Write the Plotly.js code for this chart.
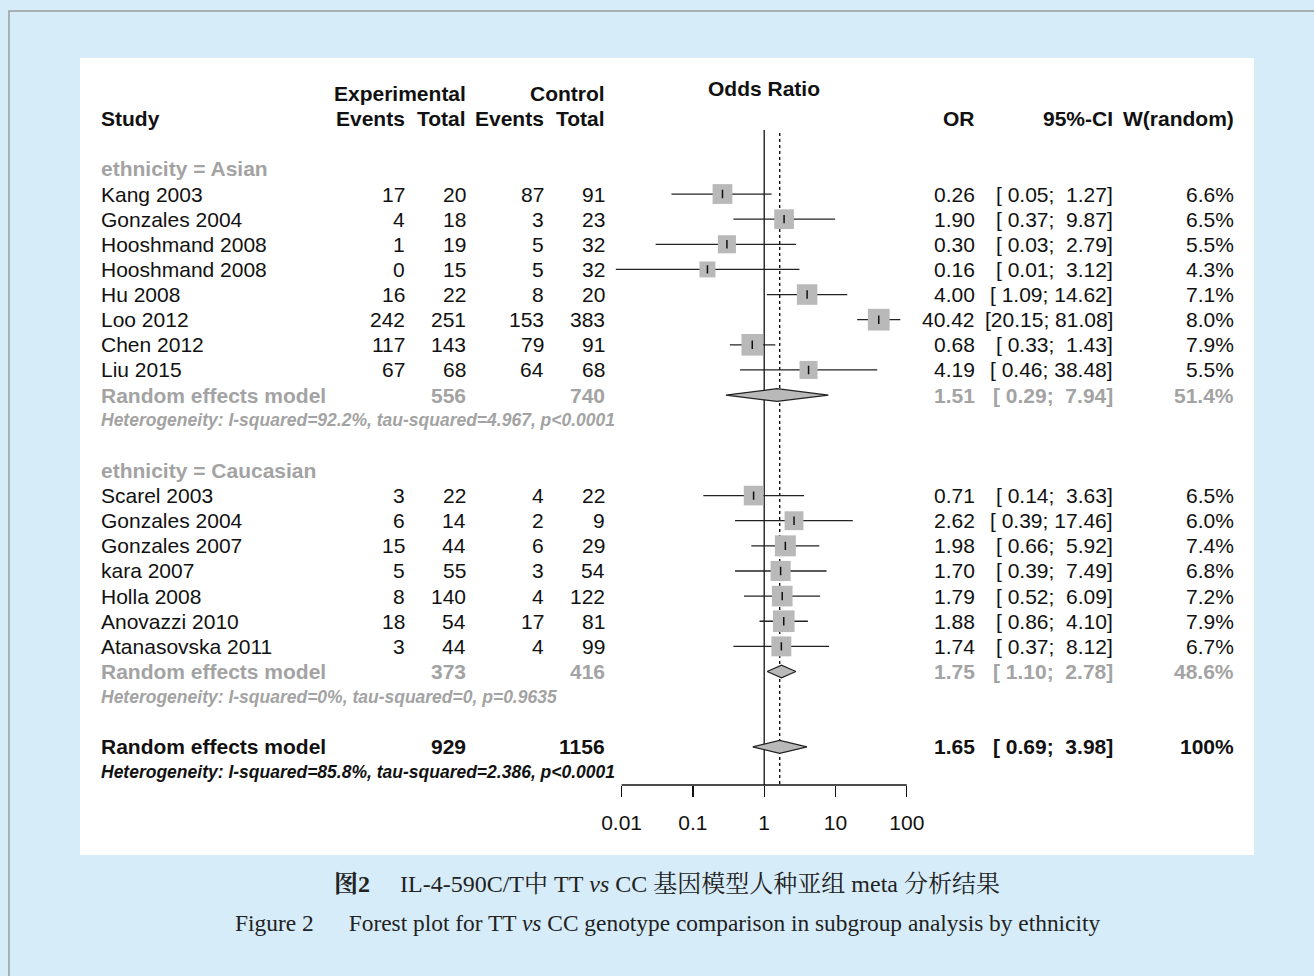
<!DOCTYPE html>
<html>
<head>
<meta charset="utf-8">
<script src="https://cdn.plot.ly/plotly-3.0.1.min.js"></script>
<style>html,body{margin:0;padding:0;background:#d6ecf9;} #chart{width:1314px;height:976px;}</style>
</head>
<body>
<div id="chart"></div>
<script>
// ---------------- data ----------------
const groupLabels = ["ethnicity = Asian", "ethnicity = Caucasian"];
const studyNames = ["Kang 2003","Gonzales 2004","Hooshmand 2008","Hooshmand 2008","Hu 2008","Loo 2012","Chen 2012","Liu 2015",
  "Scarel 2003","Gonzales 2004","Gonzales 2007","kara 2007","Holla 2008","Anovazzi 2010","Atanasovska 2011"];
const studyGroup = [0,0,0,0,0,0,0,0,1,1,1,1,1,1,1];
const expEvents  = [17,4,1,0,16,242,117,67, 3,6,15,5,8,18,3];
const expTotal   = [20,18,19,15,22,251,143,68, 22,14,44,55,140,54,44];
const ctrlEvents = [87,3,5,5,8,153,79,64, 4,2,6,3,4,17,4];
const ctrlTotal  = [91,23,32,32,20,383,91,68, 22,9,29,54,122,81,99];
const oddsRatio  = [0.26,1.90,0.30,0.16,4.00,40.42,0.68,4.19, 0.71,2.62,1.98,1.70,1.79,1.88,1.74];
const ciLower    = [0.05,0.37,0.03,0.0083,1.09,20.15,0.33,0.46, 0.14,0.39,0.66,0.39,0.52,0.86,0.37];
const ciUpper    = [1.27,9.87,2.79,3.12,14.62,81.08,1.43,38.48, 3.63,17.46,5.92,7.49,6.09,4.10,8.12];
const weightRandom = [6.6,6.5,5.5,4.3,7.1,8.0,7.9,5.5, 6.5,6.0,7.4,6.8,7.2,7.9,6.7];

const subExpTotal  = [556, 373];
const subCtrlTotal = [740, 416];
const subOR        = [1.51, 1.75];
const subLower     = [0.29, 1.10];
const subUpper     = [7.94, 2.78];
const subWeight    = [51.4, 48.6];
const subHetText   = ["Heterogeneity: I-squared=92.2%, tau-squared=4.967, p<0.0001",
                      "Heterogeneity: I-squared=0%, tau-squared=0, p=0.9635"];

const overallExpTotal = 929;
const overallCtrlTotal = 1156;
const overallOR = 1.65;
const overallLower = 0.69;
const overallUpper = 3.98;
const overallWeight = 100;
const overallHetText = "Heterogeneity: I-squared=85.8%, tau-squared=2.386, p<0.0001";

const tickVals = [0.01, 0.1, 1, 10, 100];
const tickLabels = ["0.01", "0.1", "1", "10", "100"];

// ---------------- layout constants ----------------
const W = 1314, H = 976;
const ROW0_PX = 168.9, ROW_PX = 25.13;
const pxToRow = p => (p - ROW0_PX) / ROW_PX;
const AXIS_PX = 785;
const rAxis = pxToRow(AXIS_PX);
const FONT = "Liberation Sans, Arial, Helvetica, sans-serif";
const SERIF = "Liberation Serif, 'Times New Roman', 'Noto Serif CJK SC', 'Noto Sans CJK SC', serif";
const GRAY = "#a3a3a3";
const BLACK = "#111111";
const FS = 21, FS_HET = 17.5;
const COL = {study:101, expEv:405, expTot:466, ctrlEv:544, ctrlTot:605, or:975, ci:1113, w:1234};
const NB = "\u00A0";

const fmt2 = v => v.toFixed(2);
const pad = (s, n) => { while (s.length < n) s = NB + s; return s; };
const fmtCI = (lo, hi) => "[" + pad(fmt2(lo),5) + ";" + NB + pad(fmt2(hi),5) + "]";
const fmtW = w => (w === 100 ? "100" : w.toFixed(1)) + "%";

const annotations = [];
function txt(text, xpx, row, anchor, opt) {
  opt = opt || {};
  const t = opt.bold ? "<b>" + text + "</b>" : text;
  annotations.push({
    text: opt.italic ? "<i>" + t + "</i>" : t,
    xref: "paper", yref: "y", x: xpx / W, y: row,
    xanchor: anchor, yanchor: "middle", showarrow: false,
    xshift: anchor === "left" ? -2 : (anchor === "right" ? 2 : 0),
    font: {family: FONT, size: opt.size || FS, color: opt.color || BLACK}
  });
}

// headers
txt("Experimental", COL.expTot, -3, "right", {bold:true});
txt("Control", COL.ctrlTot, -3, "right", {bold:true});
txt("Odds Ratio", 764, pxToRow(88), "center", {bold:true});
txt("Study", COL.study, -2, "left", {bold:true});
txt("Events", COL.expEv, -2, "right", {bold:true});
txt("Total", COL.expTot, -2, "right", {bold:true});
txt("Events", COL.ctrlEv, -2, "right", {bold:true});
txt("Total", COL.ctrlTot, -2, "right", {bold:true});
txt("OR", COL.or, -2, "right", {bold:true});
txt("95%-CI", COL.ci, -2, "right", {bold:true});
txt("W(random)", COL.w, -2, "right", {bold:true});

// rows
const studyRow = [];
const subRow = [];
let row = 0;
for (let g = 0; g < groupLabels.length; g++) {
  txt(groupLabels[g], COL.study, row, "left", {bold:true, color:GRAY});
  row++;
  for (let i = 0; i < studyNames.length; i++) {
    if (studyGroup[i] !== g) continue;
    studyRow[i] = row;
    txt(studyNames[i], COL.study, row, "left");
    txt(String(expEvents[i]), COL.expEv, row, "right");
    txt(String(expTotal[i]), COL.expTot, row, "right");
    txt(String(ctrlEvents[i]), COL.ctrlEv, row, "right");
    txt(String(ctrlTotal[i]), COL.ctrlTot, row, "right");
    txt(fmt2(oddsRatio[i]), COL.or, row, "right");
    txt(fmtCI(ciLower[i], ciUpper[i]), COL.ci, row, "right");
    txt(fmtW(weightRandom[i]), COL.w, row, "right");
    row++;
  }
  subRow[g] = row;
  const o = {bold:true, color:GRAY};
  txt("Random effects model", COL.study, row, "left", o);
  txt(String(subExpTotal[g]), COL.expTot, row, "right", o);
  txt(String(subCtrlTotal[g]), COL.ctrlTot, row, "right", o);
  txt(fmt2(subOR[g]), COL.or, row, "right", o);
  txt(fmtCI(subLower[g], subUpper[g]), COL.ci, row, "right", o);
  txt(fmtW(subWeight[g]), COL.w, row, "right", o);
  row++;
  txt(subHetText[g], COL.study, row, "left", {bold:true, italic:true, color:GRAY, size:FS_HET});
  row += 2;
}
const overallRow = row;
txt("Random effects model", COL.study, row, "left", {bold:true});
txt(String(overallExpTotal), COL.expTot, row, "right", {bold:true});
txt(String(overallCtrlTotal), COL.ctrlTot, row, "right", {bold:true});
txt(fmt2(overallOR), COL.or, row, "right", {bold:true});
txt(fmtCI(overallLower, overallUpper), COL.ci, row, "right", {bold:true});
txt(fmtW(overallWeight), COL.w, row, "right", {bold:true});
txt(overallHetText, COL.study, row + 1, "left", {bold:true, italic:true, size:FS_HET});

// caption
annotations.push({
  text: "<b>图2</b>" + NB.repeat(5) + "IL-4-590C/T中" + NB + "TT" + NB + "<i>vs</i>" + NB + "CC" + NB + "基因模型人种亚组" + NB + "meta" + NB + "分析结果",
  xref:"paper", yref:"paper", x: 667/W, y: 1 - 884/H, xanchor:"center", yanchor:"middle",
  showarrow:false, font:{family:SERIF, size:24, color:"#222"}
});
annotations.push({
  text: "Figure 2" + NB.repeat(6) + "Forest plot for TT <i>vs</i> CC genotype comparison in subgroup analysis by ethnicity",
  xref:"paper", yref:"paper", x: 667/W, y: 1 - 923/H, xanchor:"center", yanchor:"middle",
  showarrow:false, font:{family:SERIF, size:23.4, color:"#222"}
});

// ---------------- traces ----------------
const traces = [];
// reference lines
traces.push({x:[1,1], y:[pxToRow(130), rAxis], mode:"lines", line:{color:BLACK, width:1.3}, hoverinfo:"skip"});
traces.push({x:[overallOR, overallOR], y:[pxToRow(133), rAxis], mode:"lines", line:{color:BLACK, width:1.4, dash:"dot"}, hoverinfo:"skip"});
// axis line
traces.push({x:[tickVals[0], tickVals[tickVals.length-1]], y:[rAxis, rAxis], mode:"lines", line:{color:BLACK, width:1.3}, hoverinfo:"skip"});

// CI lines
const cx = [], cy = [];
for (let i = 0; i < studyNames.length; i++) {
  cx.push(ciLower[i], ciUpper[i], null);
  cy.push(studyRow[i], studyRow[i], null);
}
traces.push({x:cx, y:cy, mode:"lines", line:{color:"#222", width:1.3}, hoverinfo:"skip"});
// squares
traces.push({x:oddsRatio, y:studyRow, mode:"markers",
  marker:{symbol:"square", color:"#b9b9b9", opacity:1, size:weightRandom.map(w => 7.7*Math.sqrt(w)), line:{width:0}},
  hoverinfo:"skip", cliponaxis:false});
// estimate ticks
traces.push({x:oddsRatio, y:studyRow, mode:"markers",
  marker:{symbol:"line-ns", size:6, color:BLACK, line:{color:BLACK, width:1.5}}, hoverinfo:"skip"});

// diamonds
const DH = 6.4 / ROW_PX;
const dx = [], dy = [];
function diamond(lo, est, hi, r) {
  dx.push(lo, est, hi, est, lo, null);
  dy.push(r, r - DH, r, r + DH, r, null);
}
for (let g = 0; g < groupLabels.length; g++) diamond(subLower[g], subOR[g], subUpper[g], subRow[g]);
diamond(overallLower, overallOR, overallUpper, overallRow);
traces.push({x:dx, y:dy, mode:"lines", fill:"toself", fillcolor:"#b9b9b9", line:{color:"#222", width:1.2}, hoverinfo:"skip"});

const layout = {
  width: W, height: H,
  margin: {l:0, r:0, t:0, b:0, pad:0},
  paper_bgcolor: "#d6ecf9",
  plot_bgcolor: "rgba(0,0,0,0)",
  showlegend: false,
  hovermode: false,
  xaxis: {
    type: "log", range: [-2.2, 2.2],
    domain: [(764.2 - 2.2*71.3)/W, (764.2 + 2.2*71.3)/W],
    anchor: "free", position: 1 - AXIS_PX/H,
    showline: false, showgrid: false, zeroline: false,
    ticks: "outside", ticklen: 11, tickwidth: 1.3, tickcolor: BLACK,
    tickmode: "array", tickvals: tickVals, ticktext: tickLabels,
    tickfont: {family: FONT, size: FS, color: BLACK},
    ticklabelstandoff: 8,
    fixedrange: true
  },
  yaxis: {
    domain: [0, 1], range: [pxToRow(H), pxToRow(0)],
    visible: false, showgrid: false, zeroline: false, fixedrange: true
  },
  shapes: [
    {type:"rect", xref:"paper", yref:"paper", x0: 9/W, x1: 1.02, y0: 1 - 11/H, y1: -0.02,
     line:{color:"#9a9a9a", width:1.5}, fillcolor:"rgba(0,0,0,0)", layer:"below"},
    {type:"rect", xref:"paper", yref:"paper", x0: 80/W, x1: 1254/W, y0: 1 - 58/H, y1: 1 - 855/H,
     line:{width:0}, fillcolor:"#ffffff", layer:"below"}
  ],
  annotations: annotations
};

Plotly.newPlot("chart", traces, layout, {displayModeBar:false, staticPlot:true});
</script>
</body>
</html>
